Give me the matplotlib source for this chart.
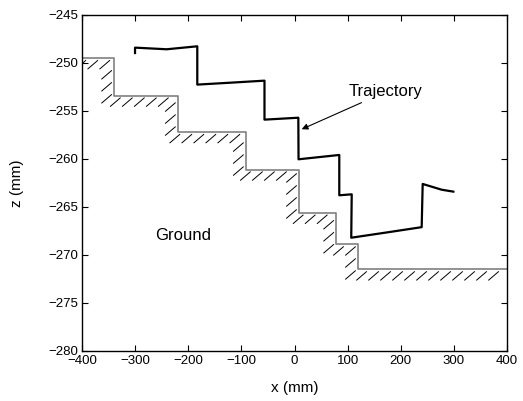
import numpy as np
import matplotlib
matplotlib.use("Agg")
import matplotlib.pyplot as plt

plt.rcParams['font.family'] = ['Liberation Sans', 'DejaVu Sans']

# ground staircase: edges along x and the level of each step
step_x = [-400, -340, -220, -92, 8, 78, 119, 400]
step_z = [-249.5, -253.4, -257.2, -261.1, -265.6, -268.9, -271.5]

# foot trajectory
traj_x = [-300.2, -300.2, -240.6, -183.0, -183.0, -120.0, -56.5, -56.5, 7.2, 7.6,
          84.3, 84.3, 107.7, 106.8, 179.8, 239.4, 241.3, 277.1, 299.0]
traj_z = [-248.96, -248.4, -248.57, -248.26, -252.25, -252.05, -251.84, -255.9, -255.7, -260.03,
          -259.58, -263.78, -263.68, -268.2, -267.6, -267.1, -262.6, -263.2, -263.4]

xticks = [-400, -300, -200, -100, 0, 100, 200, 300, 400]
yticks = [-280, -275, -270, -265, -260, -255, -250, -245]


def ground_path(edges, levels):
    gx, gz = [], []
    for i, lev in enumerate(levels):
        gx += [edges[i], edges[i + 1]]
        gz += [lev, lev]
    return np.array(gx), np.array(gz)


def add_hatch(ax, xs, zs, spacing=12.0, start=6.0, dx=10.5, dy=9.0, gap=2.0):
    # short "/" strokes hanging below/left of the ground outline, in pixel units
    pts = ax.transData.transform(np.column_stack([xs, zs]))
    inv = ax.transData.inverted()
    dist = start
    for p0, p1 in zip(pts[:-1], pts[1:]):
        seg = p1 - p0
        L = np.hypot(*seg)
        if L == 0:
            continue
        while dist <= L:
            p = p0 + seg * dist / L
            a = p + np.array([-gap, -gap])
            b = a + np.array([-dx, -dy])
            d = inv.transform(np.vstack([a, b]))
            ax.plot(d[:, 0], d[:, 1], color='black', lw=0.7, solid_capstyle='butt')
            dist += spacing
        dist -= L


fig = plt.figure(figsize=(5.23, 4.01), dpi=100)
ax = fig.add_axes([0.1568, 0.1247, 0.8126, 0.8379])
ax.set_xlim(-400, 400)
ax.set_ylim(-280, -245)

gx, gz = ground_path(step_x, step_z)
add_hatch(ax, gx, gz)
ax.plot(gx, gz, color='#808080', lw=1.2)

ax.plot(traj_x, traj_z, color='black', lw=1.6)

ax.annotate('Trajectory', xy=(13.5, -256.9), xytext=(102.5, -253.0),
            fontsize=12, va='center', ha='left',
            arrowprops=dict(arrowstyle='-|>', color='black', lw=0.8,
                            mutation_scale=9, shrinkA=1, shrinkB=0))
ax.text(-210, -268.0, 'Ground', fontsize=12, ha='center', va='center')

ax.set_xticks(xticks)
ax.set_yticks(yticks)
ax.tick_params(direction='in', top=True, right=True, length=4, width=0.8,
               labelsize=9.5, pad=3)
for s in ax.spines.values():
    s.set_linewidth(1.0)
ax.set_xlabel('x (mm)', fontsize=11, labelpad=10)
ax.set_ylabel('z (mm)', fontsize=11, labelpad=17)

fig.savefig('out.png', dpi=100)
